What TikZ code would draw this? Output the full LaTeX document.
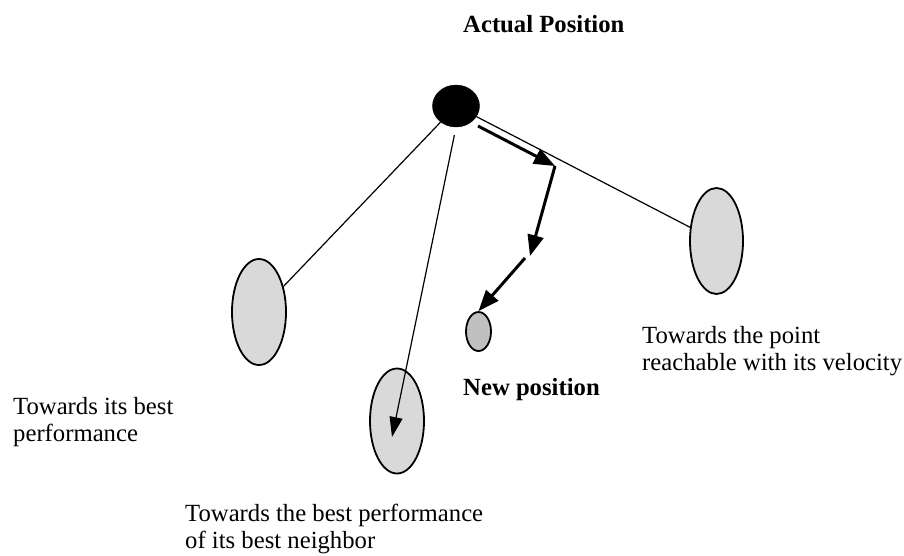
\documentclass[tikz,border=0pt]{standalone}
\usepackage{fontspec}
\setmainfont{Liberation Serif}
\usetikzlibrary{shapes.geometric,arrows.meta}
\definecolor{lightfill}{HTML}{D9D9D9}
\definecolor{darkfill}{HTML}{C0C0C0}
\tikzset{
  target/.style={ellipse, draw=black, line width=1.8pt, fill=lightfill, inner sep=0pt,
    minimum width=#1},
  thinline/.style={line width=1.2pt},
  movearrow/.style={line width=3pt, -{Triangle[length=21pt,width=16pt]}},
  thinarrow/.style={line width=1.2pt, -{Triangle[length=20pt,width=13pt]}},
  lbl/.style={font=\fontsize{24.7}{27}\selectfont, inner sep=0pt, align=left},
  boldlbl/.style={font=\fontsize{24.7}{27}\selectfont\bfseries, inner sep=0pt},
}
\begin{document}
\begin{tikzpicture}[x=1pt,y=-1pt]
\path[use as bounding box] (0,0) rectangle (904,555);

% particle and targets
\node[ellipse, fill=black, draw=black, inner sep=0pt, minimum width=47pt, minimum height=42pt] (actual) at (456,106) {};
\node[target=54pt, minimum height=106pt] (own) at (259,312) {};
\node[target=54pt, minimum height=105pt] (nbr) at (397,421) {};
\node[target=53pt, minimum height=106pt] (vel) at (716.5,241) {};
\node[ellipse, draw=black, line width=1.8pt, fill=darkfill, inner sep=0pt, minimum width=25pt, minimum height=39pt] (new) at (478.5,331.5) {};

% helper points
\coordinate (nbrtip) at (392,437);
\coordinate (m0) at (478,126);
\coordinate (m1) at (555,166);
\coordinate (m2) at (530,256);
\coordinate (m3) at (525,258);

% thin connectors
\draw[thinline] (actual) -- (own);
\draw[thinline] (actual) -- (vel);
\draw[thinarrow, shorten <=8pt] (actual.south) -- (nbrtip);

% movement arrows
\draw[movearrow] (m0) -- (m1);
\draw[movearrow] (m1) -- (m2);
\draw[movearrow] (m3) -- (new.north);

% labels
\node[boldlbl, anchor=base west] (lact) at (463,32) {Actual Position};
\node[boldlbl, anchor=base west] (lnew) at (463,395) {New position};
\node[lbl, anchor=north west] (lvel) at (642,326) {Towards the point\\reachable with its velocity};
\node[lbl, anchor=north west] (lown) at (13,397) {Towards its best\\performance};
\node[lbl, anchor=north west] (lnbr) at (185,504) {Towards the best performance\\of its best neighbor};
\end{tikzpicture}
\end{document}
